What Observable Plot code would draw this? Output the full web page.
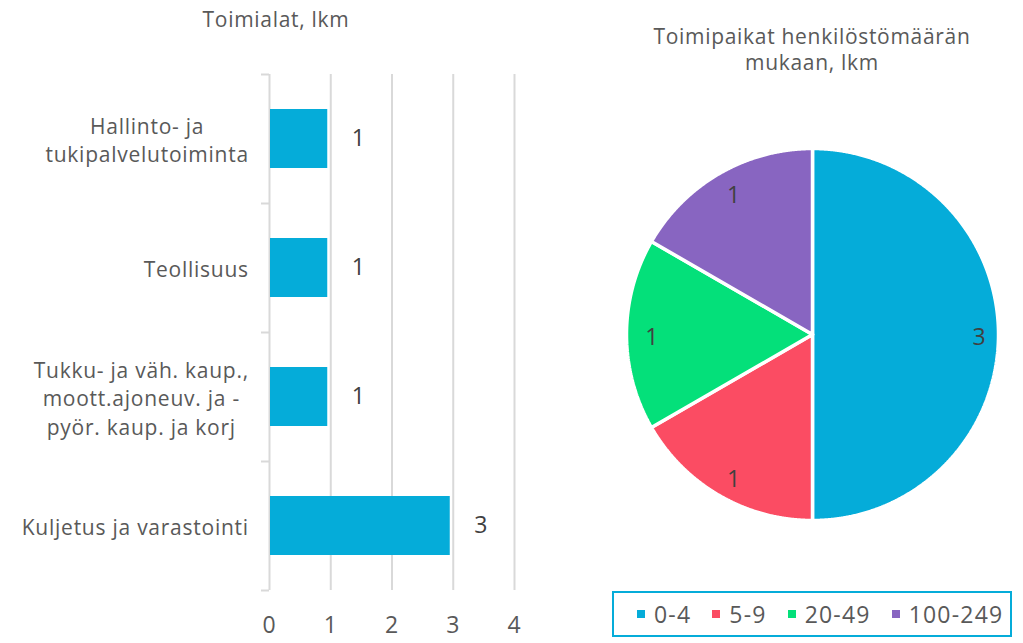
<!DOCTYPE html>
<html><head><meta charset="utf-8">
<script src="https://cdn.jsdelivr.net/npm/d3@7"></script>
<script src="https://cdn.jsdelivr.net/npm/@observablehq/plot@0.6"></script>
<style>
body{margin:0;width:1023px;height:643px;overflow:hidden;background:#fff;font-family:"Open Sans",sans-serif;color:#595959;position:relative}
.abs{position:absolute}
.title{font-size:21px;text-align:center;line-height:26px;letter-spacing:0.7px}
#legend{left:612px;top:591px;width:396px;height:42px;border:2px solid #05acd9;display:flex;align-items:center;font-size:23px;letter-spacing:1.2px;box-sizing:content-box}
#legend .it{display:flex;align-items:center;margin-left:21px}
#legend .it:first-child{margin-left:23px}
#legend .sw{width:8px;height:8px;margin-right:9px}
</style></head><body>
<div id="bar" class="abs" style="left:0;top:0"></div>
<div id="pie" class="abs" style="left:612px;top:134px"></div>
<div class="abs title" style="left:126px;width:300px;top:6px">Toimialat, lkm</div>
<div class="abs title" style="left:612px;width:400px;top:23px">Toimipaikat henkilöstömäärän<br>mukaan, lkm</div>
<div id="legend" class="abs"></div>
<script>
const categories = ["Hallinto- ja\ntukipalvelutoiminta", "Teollisuus", "Tukku- ja väh. kaup.,\nmoott.ajoneuv. ja -\npyör. kaup. ja korj", "Kuljetus ja varastointi"];
const counts = [1, 1, 1, 3];
const xTicks = [0, 1, 2, 3, 4];
const sizeClasses = ["0-4", "5-9", "20-49", "100-249"];
const sizeCounts = [3, 1, 1, 1];
const barColor = "#05acd9";
const sizeColors = ["#05acd9", "#fb4c63", "#04e07a", "#8865c1"];

const font = '"Open Sans", sans-serif';
const LS = 0.75;
const barData = categories.map((c, i) => ({cat: c, n: counts[i]}));

// bar chart
const W = 530, H = 643, mL = 269, mT = 74, mB = 53, mR = 16;
const step = (H - mT - mB) / categories.length;
const pxPerUnit = (W - mL - mR) / (xTicks[xTicks.length - 1] - xTicks[0]);
const cv = document.createElement("canvas").getContext("2d");
cv.font = "21px " + font;
const labelMarks = categories.map(c => {
  const w = Math.max(...c.split("\n").map(l => cv.measureText(l).width + LS * (l.length - 1)));
  return Plot.text([c], {x: 0, y: d => d, text: d => d, textAnchor: "middle", dx: -21 - w / 2, fontSize: 21, lineHeight: 1.36, fill: "#595959"});
});
const barPlot = Plot.plot({
  width: W, height: H, marginLeft: mL, marginTop: mT, marginBottom: mB, marginRight: mR,
  style: {fontFamily: font, fontSize: "23px", color: "#595959", background: "transparent", letterSpacing: LS + "px"},
  x: {domain: [xTicks[0], xTicks[xTicks.length - 1]], ticks: xTicks, tickSize: 0, tickPadding: 26, label: null, tickFormat: d => String(d)},
  y: {domain: categories, paddingInner: 0.54, paddingOuter: 0.27, axis: null},
  marks: [
    Plot.ruleX(xTicks, {stroke: "#d9d9d9", strokeWidth: 2}),
    Plot.ruleY(categories, {y: d => d, x1: -8 / pxPerUnit, x2: 0, dy: -step / 2, stroke: "#d9d9d9", strokeWidth: 2}),
    Plot.ruleY(categories.slice(-1), {y: d => d, x1: -8 / pxPerUnit, x2: 0, dy: step / 2, stroke: "#d9d9d9", strokeWidth: 2}),
    Plot.barX(barData, {x: "n", y: "cat", fill: barColor, insetLeft: 1, insetRight: 3}),
    Plot.text(barData, {x: "n", y: "cat", text: d => String(d.n), dx: 28, fontSize: 23, fill: "#404040"}),
    ...labelMarks
  ]
});
document.getElementById("bar").appendChild(barPlot);

// pie chart
const S = 400, radiusPx = 186, R = S / (2 * radiusPx);
const arcs = d3.pie().sort(null).value(d => d)(sizeCounts);
const pieMarks = arcs.map((a, i) => {
  const pts = [{x: 0, y: 0}];
  const n = Math.ceil((a.endAngle - a.startAngle) / 0.005);
  for (let k = 0; k <= n; k++) {
    const t = a.startAngle + (a.endAngle - a.startAngle) * k / n;
    pts.push({x: Math.sin(t), y: Math.cos(t)});
  }
  pts.push({x: 0, y: 0});
  return Plot.line(pts, {x: "x", y: "y", fill: sizeColors[i], stroke: "white", strokeWidth: 3.5, strokeLinejoin: "miter"});
});
const mid = a => (a.startAngle + a.endAngle) / 2;
const piePlot = Plot.plot({
  width: S, height: S, margin: 0,
  style: {fontFamily: font, background: "transparent"},
  x: {domain: [-R, R], axis: null},
  y: {domain: [-R, R], axis: null},
  marks: [
    ...pieMarks,
    Plot.text(arcs, {x: a => 0.88 * Math.sin(mid(a)), y: a => 0.88 * Math.cos(mid(a)), text: a => String(a.data), dx: 3, dy: 3, fontSize: 23, fill: "#404040"})
  ]
});
document.getElementById("pie").appendChild(piePlot);

// legend
const lg = document.getElementById("legend");
sizeClasses.forEach((s, i) => {
  const it = document.createElement("div"); it.className = "it";
  const sw = document.createElement("div"); sw.className = "sw"; sw.style.background = sizeColors[i];
  const tx = document.createElement("span"); tx.textContent = s;
  it.appendChild(sw); it.appendChild(tx); lg.appendChild(it);
});
</script>
</body></html>
